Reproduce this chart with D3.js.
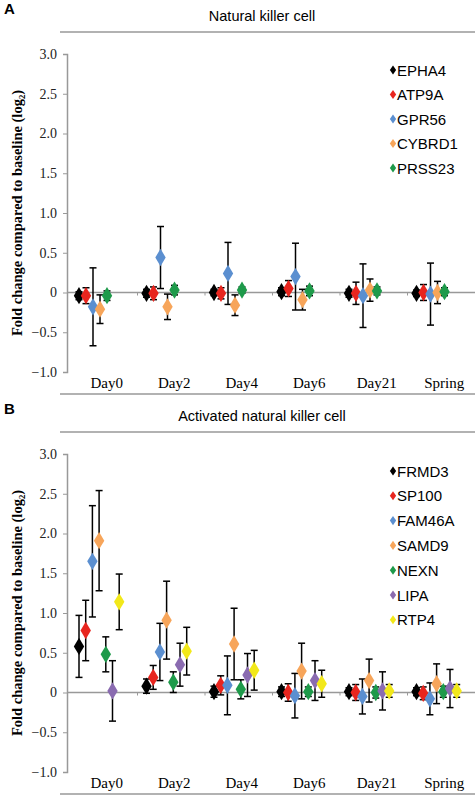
<!DOCTYPE html>
<html><head><meta charset="utf-8">
<script src="https://cdn.jsdelivr.net/npm/d3@7"></script>
<style>body{margin:0;background:#fff}</style></head>
<body><svg id="c" width="476" height="800"></svg>
<script>
const categories=["Day0","Day2","Day4","Day6","Day21","Spring"];
const yTicks=[-1,-0.5,0,0.5,1,1.5,2,2.5,3];
const genesA=["EPHA4","ATP9A","GPR56","CYBRD1","PRSS23"];
const colorsA=["#000000","#e8251e","#5b8fd0","#f7a55a","#1e9a4a"];
const valuesA=[[-0.04,-0.01,0,0.01,-0.01,-0.01],[-0.04,-0.01,-0.01,0.05,-0.01,0],[-0.18,0.44,0.24,0.2,-0.04,-0.02],[-0.21,-0.18,-0.16,-0.09,0.03,0],[-0.04,0.03,0.03,0.02,0.02,0.01]];
const errorsA=[[0.05,0.05,0.04,0.05,0.05,0.04],[0.1,0.08,0.07,0.1,0.14,0.1],[0.49,0.39,0.39,0.42,0.4,0.39],[0.18,0.16,0.13,0.13,0.14,0.14],[0.06,0.06,0.04,0.06,0.05,0.05]];
const genesB=["FRMD3","SP100","FAM46A","SAMD9","NEXN","LIPA","RTP4"];
const colorsB=["#000000","#e8251e","#5b8fd0","#f7a55a","#1e9a4a","#8a6bb0","#f2e81a"];
const valuesB=[[0.58,0.08,0.01,0.01,0.01,0.01],[0.78,0.19,0.09,0,0,-0.01],[1.65,0.51,0.09,-0.04,-0.05,-0.08],[1.91,0.91,0.61,0.27,0.15,0.11],[0.48,0.13,0.04,0.01,0,0.01],[0.02,0.35,0.22,0.15,0.02,0.05],[1.14,0.52,0.28,0.11,0.02,0.02]];
const errorsB=[[0.39,0.09,0.07,0.06,0.05,0.05],[0.38,0.15,0.12,0.11,0.1,0.08],[0.7,0.36,0.37,0.28,0.22,0.2],[0.63,0.49,0.45,0.35,0.27,0.25],[0.22,0.13,0.12,0.06,0.07,0.07],[0.38,0.27,0.27,0.25,0.24,0.24],[0.35,0.3,0.25,0.17,0.08,0.08]];

const svg=d3.select("#c");
const serif="'Liberation Serif','DejaVu Serif',serif", sans="'Liberation Sans',Arial,sans-serif";
function panel(oy,letter,title,genes,colors,vals,errs,legY,legStep,step){
  const g=svg.append("g").attr("transform",`translate(0,${oy})`);
  const y=d3.scaleLinear().domain([-1,3]).range([372,54]);
  const x=d3.scaleBand().domain(categories).range([70,475]);
  g.append("text").attr("x",4).attr("y",14).attr("font-family",sans).attr("font-weight","bold").attr("font-size",15).text(letter);
  g.append("text").attr("x",262).attr("y",21).attr("text-anchor","middle").attr("font-family",sans).attr("font-size",14.5).text(title);
  g.append("line").attr("x1",60).attr("x2",475).attr("y1",32).attr("y2",32).attr("stroke","#999").attr("stroke-width",1.5);
  g.append("line").attr("x1",60).attr("x2",475).attr("y1",394).attr("y2",394).attr("stroke","#999").attr("stroke-width",1.5);
  const ax=g.append("g").attr("transform","translate(67,0)").call(d3.axisLeft(y).tickValues(yTicks).tickSize(4).tickFormat(d=>d===0?"0":d3.format(".1f")(d)));
  ax.select(".domain").attr("stroke","#999").attr("stroke-width",1.5);
  ax.selectAll(".tick line").attr("stroke","#999");
  ax.selectAll("text").attr("font-family",serif).attr("font-size",14).attr("fill","#222").attr("dx",-3);
  g.append("line").attr("x1",67).attr("x2",475).attr("y1",y(0)).attr("y2",y(0)).attr("stroke","#999").attr("stroke-width",1.5);
  categories.slice(1).forEach(c=>g.append("line").attr("x1",x(c)).attr("x2",x(c)).attr("y1",y(0)).attr("y2",y(0)+3).attr("stroke","#999"));
  categories.forEach(c=>g.append("text").attr("x",x(c)+x.bandwidth()/2+3).attr("y",388).attr("text-anchor","middle").attr("font-family",serif).attr("font-size",15).text(c));
  g.append("text").attr("transform",`translate(22,${y(1)}) rotate(-90)`).attr("text-anchor","middle").attr("font-family",serif).attr("font-weight","bold").attr("font-size",14.5).text("Fold change compared to baseline (log₂)");
  const dia=d3.symbol().type(d3.symbolDiamond).size(60);
  genes.forEach((gn,i)=>{
    categories.forEach((c,j)=>{
      const cx=x(c)+9+i*step, v=vals[i][j], e=errs[i][j];
      g.append("line").attr("x1",cx).attr("x2",cx).attr("y1",y(v-e)).attr("y2",y(v+e)).attr("stroke","#000").attr("stroke-width",1.5);
      [v-e,v+e].forEach(t=>g.append("line").attr("x1",cx-3.5).attr("x2",cx+3.5).attr("y1",y(t)).attr("y2",y(t)).attr("stroke","#000").attr("stroke-width",1.5));
    });
  });
  genes.forEach((gn,i)=>{
    categories.forEach((c,j)=>{
      const cx=x(c)+9+i*step;
      g.append("path").attr("d",dia).attr("transform",`translate(${cx},${y(vals[i][j])}) scale(1.25,1.2)`).attr("fill",colors[i]);
    });
    const ly=legY+i*legStep;
    g.append("path").attr("d",d3.symbol().type(d3.symbolDiamond).size(24)).attr("transform",`translate(393,${ly}) scale(1.2,1)`).attr("fill",colors[i]);
    g.append("text").attr("x",397).attr("y",ly+5.5).attr("font-family",sans).attr("font-size",15).text(gn);
  });
}
panel(0,"A","Natural killer cell",genesA,colorsA,valuesA,errorsA,70,24.5,7);
panel(400,"B","Activated natural killer cell",genesB,colorsB,valuesB,errorsB,71,24.8,6.7);
</script></body></html>
